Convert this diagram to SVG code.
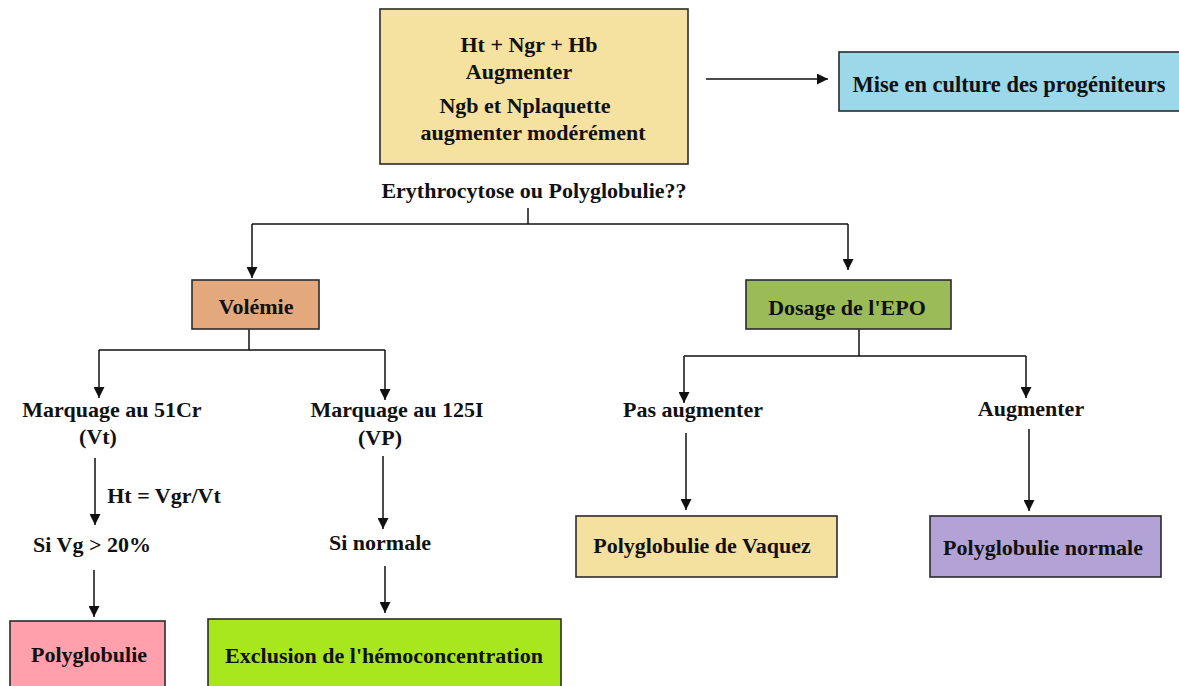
<svg xmlns="http://www.w3.org/2000/svg" width="1179" height="686" viewBox="0 0 1179 686">
<style>
.t{font-family:"Liberation Serif","Times New Roman",serif;font-weight:bold;font-size:22px;fill:#111;text-anchor:middle}
.b{stroke:#2b2b2b;stroke-width:1.6}
.c{fill:none;stroke:#111;stroke-width:1.5}
</style>
<defs>
<marker id="ah" viewBox="0 0 10 10" refX="10" refY="5" markerWidth="11" markerHeight="11" markerUnits="userSpaceOnUse" orient="auto">
<path d="M0,0 L10,5 L0,10 Z" fill="#111"/>
</marker>
</defs>
<rect width="1179" height="686" fill="#fff"/>
<g id="connectors">
<path class="c" d="M706,79 H828" marker-end="url(#ah)"/>
<path class="c" d="M528,208 V224"/>
<path class="c" d="M252,224 H848"/>
<path class="c" d="M252,224 V278" marker-end="url(#ah)"/>
<path class="c" d="M848,224 V270" marker-end="url(#ah)"/>
<path class="c" d="M249,329 V350"/>
<path class="c" d="M99,350 H385"/>
<path class="c" d="M99,350 V398" marker-end="url(#ah)"/>
<path class="c" d="M385,350 V400" marker-end="url(#ah)"/>
<path class="c" d="M95,458 V525" marker-end="url(#ah)"/>
<path class="c" d="M94,570 V617" marker-end="url(#ah)"/>
<path class="c" d="M383,456 V529" marker-end="url(#ah)"/>
<path class="c" d="M385,566 V613" marker-end="url(#ah)"/>
<path class="c" d="M859,329 V356"/>
<path class="c" d="M684,356 H1026"/>
<path class="c" d="M684,356 V403" marker-end="url(#ah)"/>
<path class="c" d="M1026,356 V398" marker-end="url(#ah)"/>
<path class="c" d="M686,433 V510" marker-end="url(#ah)"/>
<path class="c" d="M1029,429 V511" marker-end="url(#ah)"/>
</g>
<g id="top">
<rect class="b" x="380" y="9" width="308" height="155" fill="#F5E1A0"/>
<text class="t" x="529" y="52">Ht + Ngr + Hb</text>
<text class="t" x="519" y="79">Augmenter</text>
<text class="t" x="525" y="113">Ngb et Nplaquette</text>
<text class="t" x="533" y="140">augmenter modérément</text>
</g>
<g id="culture">
<rect class="b" x="839" y="52" width="342" height="59" fill="#9BD8EA"/>
<text class="t" x="1009" y="92" style="font-size:22.5px">Mise en culture des progéniteurs</text>
</g>
<g id="question">
<text class="t" x="534" y="198">Erythrocytose ou Polyglobulie??</text>
</g>
<g id="volemie">
<rect class="b" x="192" y="280" width="127" height="49" fill="#E3A87C"/>
<text class="t" x="256" y="314">Volémie</text>
</g>
<g id="dosage">
<rect class="b" x="746" y="280" width="205" height="49" fill="#9BBB59"/>
<text class="t" x="847" y="315">Dosage de l'EPO</text>
</g>
<g id="marq51">
<text class="t" x="112" y="417">Marquage au 51Cr</text>
<text class="t" x="98" y="444">(Vt)</text>
</g>
<g id="marq125">
<text class="t" x="397" y="417">Marquage au 125I</text>
<text class="t" x="380" y="445">(VP)</text>
</g>
<g id="htlabel">
<text class="t" x="164" y="503">Ht = Vgr/Vt</text>
</g>
<g id="sivg">
<text class="t" x="92" y="552">Si Vg &gt; 20%</text>
</g>
<g id="sinormale">
<text class="t" x="380" y="550">Si normale</text>
</g>
<g id="polyglobulie">
<rect class="b" x="10" y="621" width="155" height="70" fill="#FFA0AC"/>
<text class="t" x="89" y="662">Polyglobulie</text>
</g>
<g id="exclusion">
<rect class="b" x="208" y="619" width="353" height="72" fill="#A8E61D"/>
<text class="t" x="384" y="663">Exclusion de l'hémoconcentration</text>
</g>
<g id="pasaug">
<text class="t" x="693" y="417">Pas augmenter</text>
</g>
<g id="aug">
<text class="t" x="1031" y="416">Augmenter</text>
</g>
<g id="vaquez">
<rect class="b" x="576" y="516" width="261" height="61" fill="#F5E19F"/>
<text class="t" x="702" y="553">Polyglobulie de Vaquez</text>
</g>
<g id="normale">
<rect class="b" x="930" y="516" width="231" height="61" fill="#B3A2D6"/>
<text class="t" x="1043" y="555">Polyglobulie normale</text>
</g>
</svg>
